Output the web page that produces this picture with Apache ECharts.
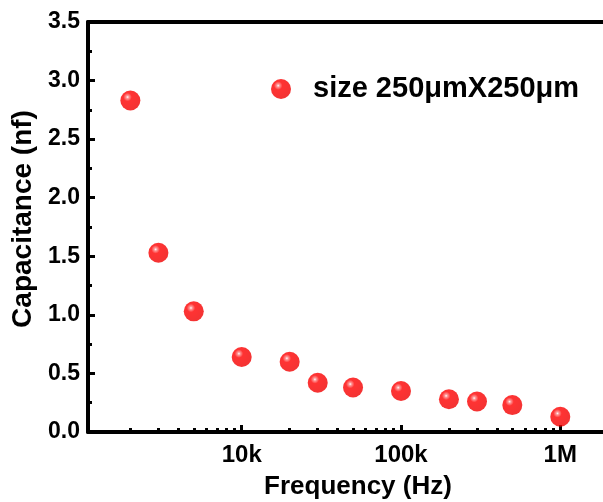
<!DOCTYPE html>
<html>
<head>
<meta charset="utf-8">
<script src="https://cdn.jsdelivr.net/npm/echarts@6/dist/echarts.min.js"></script>
<style>html,body{margin:0;padding:0;background:#fff}#c{width:603px;height:502px}</style>
</head>
<body>
<div id="c"></div>
<script>
var frequencies = [2000, 3000, 5000, 10000, 20000, 30000, 50000, 100000, 200000, 300000, 500000, 1000000];
var capacitance = [2.83, 1.53, 1.03, 0.64, 0.60, 0.42, 0.38, 0.35, 0.28, 0.26, 0.23, 0.13];
var seriesName = 'size 250\u03bcmX250\u03bcm';
var xMajorTicks = [10000, 100000, 1000000];
var xMinorTicks = [2000,3000,4000,5000,6000,7000,8000,9000,20000,30000,40000,50000,60000,70000,80000,90000,200000,300000,400000,500000,600000,700000,800000,900000];
var xTickLabels = {10000: '10k', 100000: '100k', 1000000: '1M'};

var FONT = '"Liberation Sans", Arial, sans-serif';
var xMin = 1084, xMax = 1854000;
var points = frequencies.map(function (f, i) { return [f, capacitance[i]]; });

var chart = echarts.init(document.getElementById('c'));
chart.setOption({
  animation: false,
  backgroundColor: '#fff',
  grid: { left: 88, top: 22, right: 0, bottom: 70, containLabel: false, outerBoundsMode: 'none' },
  legend: {
    left: 271, top: 72, padding: 0, itemWidth: 20, itemHeight: 20, itemGap: 0,
    icon: 'circle',
    textStyle: { fontFamily: FONT, fontSize: 29, fontWeight: 'bold', color: '#000', padding: [0, 0, 0, 17], lineHeight: 34 },
    data: [seriesName]
  },
  xAxis: [{
    type: 'log', logBase: 10, min: xMin, max: xMax, position: 'bottom',
    name: 'Frequency (Hz)', nameLocation: 'middle', nameGap: 42,
    nameTextStyle: { fontFamily: FONT, fontSize: 26, fontWeight: 'bold', color: '#000', padding: [0, 0, 0, 25] },
    axisLine: { show: true, lineStyle: { color: '#000', width: 4 } },
    axisTick: { show: true, inside: true, length: 7, customValues: xMajorTicks, lineStyle: { color: '#000', width: 3 } },
    axisLabel: { show: true, customValues: xMajorTicks, margin: 11, fontFamily: FONT, fontSize: 24, fontWeight: 'bold', color: '#000',
      formatter: function (v) { return xTickLabels[Math.round(v)] || ''; } },
    splitLine: { show: false }
  }, {
    type: 'log', logBase: 10, min: xMin, max: xMax, position: 'bottom',
    axisLine: { show: false },
    axisTick: { show: true, inside: true, length: 4, customValues: xMinorTicks, lineStyle: { color: '#000', width: 3 } },
    axisLabel: { show: false },
    splitLine: { show: false }
  }, {
    type: 'log', logBase: 10, min: xMin, max: xMax, position: 'top',
    axisLine: { show: true, lineStyle: { color: '#000', width: 4 } },
    axisTick: { show: false }, axisLabel: { show: false }, splitLine: { show: false }
  }],
  yAxis: {
    type: 'value', min: 0, max: 3.5, interval: 0.5,
    name: 'Capacitance (nf)', nameLocation: 'middle', nameGap: 42,
    nameTextStyle: { fontFamily: FONT, fontSize: 28, fontWeight: 'bold', color: '#000', padding: [0, 0, 0, 16] },
    axisLine: { show: true, lineStyle: { color: '#000', width: 4 } },
    axisTick: { show: true, inside: true, length: 7, lineStyle: { color: '#000', width: 3 } },
    minorTick: { show: true, splitNumber: 2, length: 4, lineStyle: { color: '#000', width: 3 } },
    axisLabel: { margin: 8, fontFamily: FONT, fontSize: 23, fontWeight: 'bold', color: '#000', formatter: function (v) { return v.toFixed(1); } },
    splitLine: { show: false }
  },
  series: [{
    name: seriesName, type: 'scatter', xAxisIndex: 0, yAxisIndex: 0,
    symbol: 'circle', symbolSize: 20,
    data: points,
    itemStyle: {
      color: { type: 'radial', x: 0.36, y: 0.33, r: 0.7,
        colorStops: [ { offset: 0, color: '#ffffff' }, { offset: 0.1, color: '#ff8080' }, { offset: 0.3, color: '#ff0000' }, { offset: 1, color: '#f00000' } ] }
    }
  }]
});
</script>
</body>
</html>
